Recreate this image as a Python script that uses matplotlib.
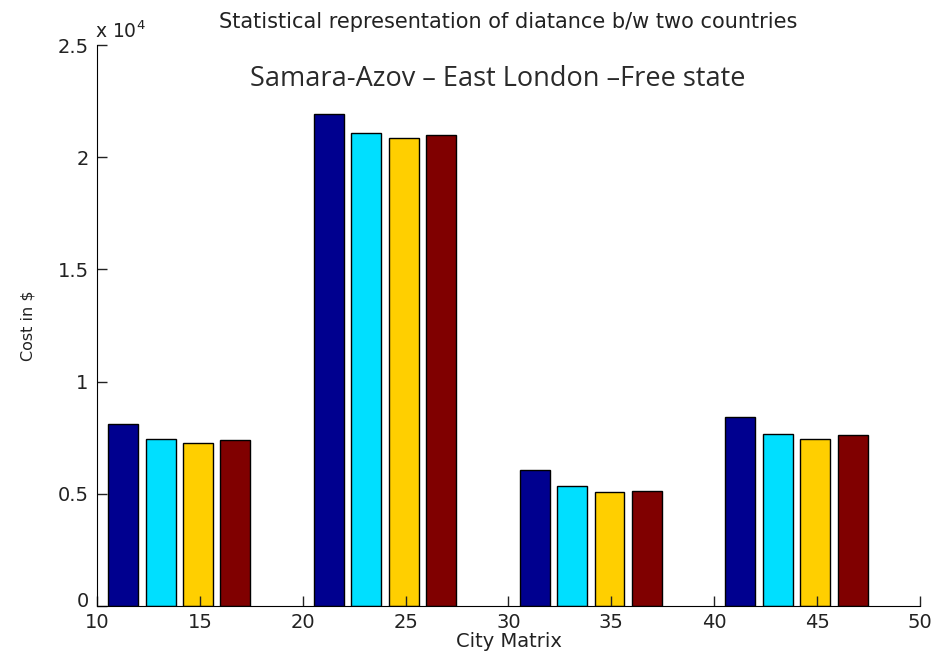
import matplotlib
matplotlib.use("Agg")
import matplotlib.pyplot as plt
from matplotlib.ticker import FuncFormatter
from matplotlib.transforms import ScaledTranslation
import numpy as np

plt.rcParams['font.family'] = ['DejaVu Sans']

# data (cost in $)
group_pos = [14, 24, 34, 44]
series_1 = [8130, 21920, 6080, 8420]
series_2 = [7460, 21090, 5340, 7680]
series_3 = [7250, 20870, 5090, 7450]
series_4 = [7380, 20970, 5110, 7610]
series = [series_1, series_2, series_3, series_4]

# MATLAB jet colours for 4 bar series
colors = ['#00008F', '#00DFFF', '#FFCF00', '#800000']

fig = plt.figure(figsize=(9.4, 6.68), dpi=100)
ax = fig.add_axes([0.1032, 0.0928, 0.8755, 0.8398])

n = len(series)
group_w = min(0.8, n / (n + 1.5)) * 10
step = group_w / n
bar_w = 0.8 * step
x = np.array(group_pos, dtype=float)
for i, vals in enumerate(series):
    offs = (i - (n - 1) / 2) * step
    ax.bar(x + offs, vals, width=bar_w, color=colors[i],
           edgecolor='black', linewidth=1.0)

ax.set_xlim(10, 50)
ax.set_ylim(0, 25000)
ax.set_xticks(range(10, 51, 5))
ax.set_yticks(range(0, 25001, 5000))
ax.yaxis.set_major_formatter(FuncFormatter(lambda v, p: '%g' % (v / 1e4)))

ax.spines['top'].set_visible(False)
ax.spines['right'].set_visible(False)
ax.tick_params(direction='in', length=7, labelsize=14, width=1,
               top=False, right=False, pad=5, colors='#222222')
ax.tick_params(axis='y', pad=6)
# nudge the y "0" up a bit so it clears the x "10"
lab0 = ax.get_yticklabels()[0]
lab0.set_transform(lab0.get_transform() +
                   ScaledTranslation(0, 5 / 72, fig.dpi_scale_trans))

ax.set_xlabel('City Matrix', fontsize=14, labelpad=0, color='#222222')
ax.set_ylabel('Cost in $', fontsize=11.5, labelpad=16, color='#222222')
ax.set_title('Statistical representation of diatance b/w two countries',
             fontsize=15, pad=12, color='#222222')

ax.text(-0.002, 1.005, r'x 10$^4$', transform=ax.transAxes, fontsize=13.5,
        ha='left', va='bottom', color='#222222')
ax.text(0.487, 0.94, 'Samara-Azov \u2013 East London \u2013Free state',
        transform=ax.transAxes, fontsize=19.5,
        family=['Open Sans', 'DejaVu Sans'],
        color='#2a2a2a', ha='center', va='center')

fig.savefig('out.png', dpi=100)
